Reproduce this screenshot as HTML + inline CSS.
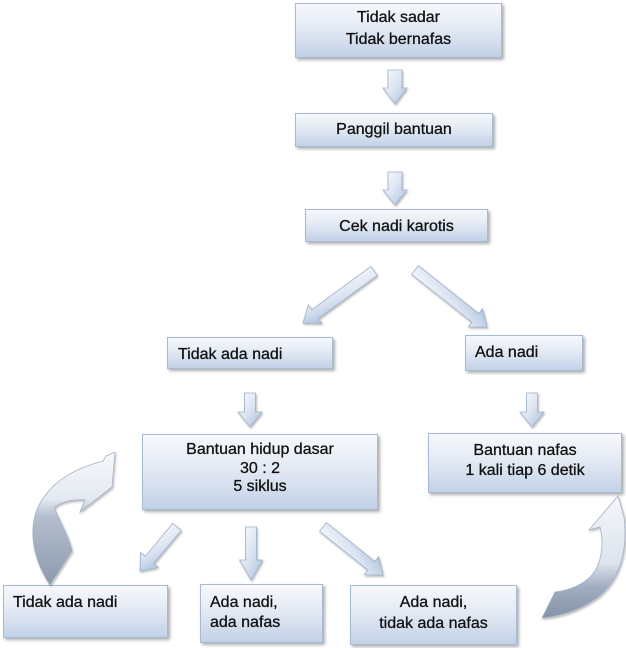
<!DOCTYPE html>
<html>
<head>
<meta charset="utf-8">
<style>
html,body{margin:0;padding:0;background:#fff;}
body{width:626px;height:648px;position:relative;overflow:hidden;font-family:"Liberation Sans",Arial,sans-serif;font-size:16px;color:#111;}
.box{position:absolute;box-sizing:border-box;border:1px solid #a7b9d3;background:linear-gradient(to bottom,#f6f8fc 0%,#e4eaf4 45%,#c2d1e7 100%);box-shadow:2px 2px 3px rgba(0,0,0,0.32);}
.t{position:absolute;white-space:nowrap;-webkit-text-stroke:0.3px #111;}
.c{text-align:center;}
svg{position:absolute;left:0;top:0;}
</style>
</head>
<body>

<!-- boxes -->
<div class="box" style="left:295px;top:3px;width:207px;height:55px;"></div>
<div class="box" style="left:295px;top:113px;width:198px;height:34px;"></div>
<div class="box" style="left:305px;top:209px;width:183px;height:33px;"></div>
<div class="box" style="left:167px;top:337px;width:166px;height:32px;"></div>
<div class="box" style="left:465px;top:335px;width:118px;height:36px;"></div>
<div class="box" style="left:142px;top:434px;width:236px;height:76px;"></div>
<div class="box" style="left:428px;top:433px;width:194px;height:60px;"></div>
<div class="box" style="left:3px;top:585px;width:165px;height:53px;"></div>
<div class="box" style="left:200px;top:584px;width:123px;height:59px;"></div>
<div class="box" style="left:350px;top:585px;width:167px;height:60px;"></div>

<!-- text -->
<div class="t c" style="left:295px;width:207px;top:7px;line-height:22px;">Tidak sadar<br>Tidak bernafas</div>
<div class="t c" style="left:295px;width:198px;top:119px;line-height:22px;">Panggil bantuan</div>
<div class="t c" style="left:305px;width:183px;top:216px;line-height:22px;">Cek nadi karotis</div>
<div class="t" style="left:178px;top:344px;line-height:22px;">Tidak ada nadi</div>
<div class="t" style="left:475px;top:342px;line-height:22px;">Ada nadi</div>
<div class="t c" style="left:142px;width:236px;top:441px;line-height:18.5px;">Bantuan hidup dasar<br>30 : 2<br>5 siklus</div>
<div class="t c" style="left:428px;width:194px;top:441px;line-height:20px;">Bantuan nafas<br>1 kali tiap 6 detik</div>
<div class="t" style="left:13px;top:592px;line-height:22px;">Tidak ada nadi</div>
<div class="t" style="left:210px;top:593px;line-height:20px;">Ada nadi,<br>ada nafas</div>
<div class="t c" style="left:350px;width:167px;top:592px;line-height:21px;">Ada nadi,<br>tidak ada nafas</div>

<svg width="626" height="648" viewBox="0 0 626 648">
  <defs>
    <linearGradient id="ag" x1="0" y1="1" x2="1" y2="0">
      <stop offset="0" stop-color="#fbfcfe"/>
      <stop offset="0.5" stop-color="#dbe4f1"/>
      <stop offset="1" stop-color="#a9bedb"/>
    </linearGradient>
    <linearGradient id="cl" x1="0" y1="453" x2="0" y2="585" gradientUnits="userSpaceOnUse">
      <stop offset="0" stop-color="#f6f8fb"/>
      <stop offset="0.35" stop-color="#e4e9f1"/>
      <stop offset="0.48" stop-color="#b4becd"/>
      <stop offset="1" stop-color="#8c99ae"/>
    </linearGradient>
    <linearGradient id="cr" x1="0" y1="496" x2="0" y2="618" gradientUnits="userSpaceOnUse">
      <stop offset="0" stop-color="#f4f7fb"/>
      <stop offset="0.55" stop-color="#dde3ed"/>
      <stop offset="0.75" stop-color="#a0acbf"/>
      <stop offset="1" stop-color="#8592a8"/>
    </linearGradient>
    <filter id="sh" x="-30%" y="-30%" width="160%" height="160%">
      <feDropShadow dx="1" dy="1.5" stdDeviation="1" flood-color="#000" flood-opacity="0.28"/>
    </filter>
  </defs>

  <g fill="url(#ag)" stroke="#9db0cb" stroke-width="0.8" filter="url(#sh)">
    <polygon transform="translate(395,70) rotate(90)" points="0,-7 18,-7 18,-12 34,0 18,12 18,7 0,7"/>
    <polygon transform="translate(395,172) rotate(90)" points="0,-7 18,-7 18,-12 33,0 18,12 18,7 0,7"/>
    <polygon transform="translate(250,393) rotate(90)" points="0,-5.5 19,-5.5 19,-12 34,0 19,12 19,5.5 0,5.5"/>
    <polygon transform="translate(532,393) rotate(90)" points="0,-5.5 19,-5.5 19,-12 34,0 19,12 19,5.5 0,5.5"/>
    <polygon transform="translate(251,527) rotate(90)" points="0,-5.5 33,-5.5 33,-11.5 53,0 33,11.5 33,5.5 0,5.5"/>
    <polygon transform="translate(374,271) rotate(143.8)" points="0,-5.5 73,-5.5 73,-11.5 88,0 73,11.5 73,5.5 0,5.5"/>
    <polygon transform="translate(415,270) rotate(38.4)" points="0,-5.5 77,-5.5 77,-11.5 92,0 77,11.5 77,5.5 0,5.5"/>
    <polygon transform="translate(177,527) rotate(130.1)" points="0,-5.5 43,-5.5 43,-11.5 57.5,0 43,11.5 43,5.5 0,5.5"/>
    <polygon transform="translate(323,527) rotate(38.7)" points="0,-5.5 62,-5.5 62,-11.5 77,0 62,11.5 62,5.5 0,5.5"/>
  </g>

  <path filter="url(#sh)" fill="url(#cl)" stroke="#a3b2c8" stroke-width="0.8"
    d="M 50 585 C 30 555, 27 520, 44 497 C 57 478, 80 467, 103 461 L 106 456 L 115 452 L 112 487 L 80 512 L 85 500 C 72 499, 60 502, 54 508 C 62 525, 70 540, 72 551 Z"/>

  <path filter="url(#sh)" fill="url(#cr)" stroke="#a3b2c8" stroke-width="0.8"
    d="M 542 618 L 555 592 C 575 590, 592 580, 598 565 C 603 552, 603 538, 600 527 L 589 530 L 618 496 L 624 517 C 628 550, 620 580, 598 597 C 582 609, 562 616, 542 618 Z"/>
</svg>

</body>
</html>
